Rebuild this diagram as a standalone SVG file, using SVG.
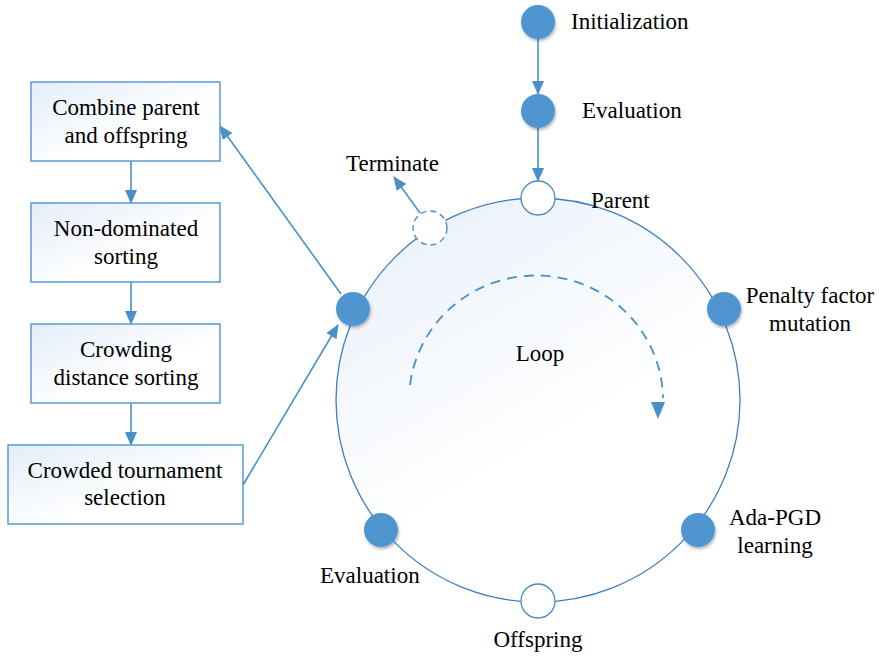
<svg xmlns="http://www.w3.org/2000/svg" width="879" height="658" viewBox="0 0 879 658">
<defs>
<linearGradient id="boxg" x1="0" y1="0" x2="1" y2="1">
<stop offset="0" stop-color="#e4edf8"/>
<stop offset="0.6" stop-color="#ffffff"/>
</linearGradient>
<linearGradient id="circg" x1="0.2" y1="0" x2="0.55" y2="0.6">
<stop offset="0" stop-color="#eaf1fa"/>
<stop offset="1" stop-color="#ffffff"/>
</linearGradient>
<filter id="sh" x="-50%" y="-50%" width="200%" height="200%">
<feGaussianBlur in="SourceAlpha" stdDeviation="1.5"/>
<feOffset dx="1" dy="1.5" result="b"/>
<feFlood flood-color="#000" flood-opacity="0.3"/>
<feComposite in2="b" operator="in"/>
<feMerge><feMergeNode/><feMergeNode in="SourceGraphic"/></feMerge>
</filter>
<marker id="ah" markerWidth="14" markerHeight="12" refX="13" refY="6" orient="auto" markerUnits="userSpaceOnUse">
<path d="M0,0 L14,6 L0,12 Z" fill="#4a90c8"/>
</marker>
<circle id="fnode" r="17" fill="#4f96d1" filter="url(#sh)"/>
</defs>

<g id="loop-circle">
<circle cx="538" cy="400" r="202" fill="url(#circg)" stroke="#3f7fbf" stroke-width="1.3"/>
</g>

<g id="connectors" stroke="#4a90c8" stroke-width="1.6" fill="none">
<line x1="538" y1="39" x2="538" y2="94" marker-end="url(#ah)"/>
<line x1="538" y1="128" x2="538" y2="181" marker-end="url(#ah)"/>
<line x1="131" y1="161" x2="131" y2="203" marker-end="url(#ah)"/>
<line x1="131" y1="282" x2="131" y2="324" marker-end="url(#ah)"/>
<line x1="131" y1="403" x2="131" y2="445" marker-end="url(#ah)"/>
<line x1="420" y1="213" x2="394" y2="177" marker-end="url(#ah)"/>
<line x1="341" y1="294" x2="220" y2="126" marker-end="url(#ah)"/>
<line x1="243" y1="485" x2="338" y2="325" marker-end="url(#ah)"/>
<path d="M410,385 A127,125 0 0 1 663,398" stroke-dasharray="10,7" stroke-width="1.8"/>
<path d="M651,402 L665,402 L658,419 Z" fill="#4a90c8" stroke="none"/>
</g>

<g id="box-combine">
<rect x="31" y="82" width="189" height="79" fill="url(#boxg)" stroke="#5a9bd3" stroke-width="1.5"/>
<text font-family="Liberation Serif, serif" font-size="23" text-anchor="middle" x="126" y="115">Combine parent</text>
<text font-family="Liberation Serif, serif" font-size="23" text-anchor="middle" x="126" y="143">and offspring</text>
</g>
<g id="box-nondominated">
<rect x="31" y="203" width="189" height="79" fill="url(#boxg)" stroke="#5a9bd3" stroke-width="1.5"/>
<text font-family="Liberation Serif, serif" font-size="23" text-anchor="middle" x="126" y="236">Non-dominated</text>
<text font-family="Liberation Serif, serif" font-size="23" text-anchor="middle" x="126" y="264">sorting</text>
</g>
<g id="box-crowding">
<rect x="31" y="324" width="189" height="79" fill="url(#boxg)" stroke="#5a9bd3" stroke-width="1.5"/>
<text font-family="Liberation Serif, serif" font-size="23" text-anchor="middle" x="126" y="357">Crowding</text>
<text font-family="Liberation Serif, serif" font-size="23" text-anchor="middle" x="126" y="385">distance sorting</text>
</g>
<g id="box-tournament">
<rect x="8" y="445" width="235" height="79" fill="url(#boxg)" stroke="#5a9bd3" stroke-width="1.5"/>
<text font-family="Liberation Serif, serif" font-size="23" text-anchor="middle" x="125" y="478">Crowded tournament</text>
<text font-family="Liberation Serif, serif" font-size="23" text-anchor="middle" x="125" y="505">selection</text>
</g>

<g id="node-init">
<use href="#fnode" x="538" y="22"/>
<text font-family="Liberation Serif, serif" font-size="23" x="571" y="29">Initialization</text>
</g>
<g id="node-eval-top">
<use href="#fnode" x="538" y="111"/>
<text font-family="Liberation Serif, serif" font-size="23" x="582" y="118">Evaluation</text>
</g>
<g id="node-parent">
<circle cx="538" cy="198" r="17" fill="#fff" stroke="#4a8ac4" stroke-width="1.3"/>
<text font-family="Liberation Serif, serif" font-size="23" x="591" y="208">Parent</text>
</g>
<g id="node-terminate">
<circle cx="430" cy="228" r="17" fill="#fff" stroke="#4a8ac4" stroke-width="1.3" stroke-dasharray="6,4"/>
<text font-family="Liberation Serif, serif" font-size="23" x="346" y="171">Terminate</text>
</g>
<g id="node-select">
<use href="#fnode" x="353" y="309"/>
</g>
<g id="node-penalty">
<use href="#fnode" x="724" y="309"/>
<text font-family="Liberation Serif, serif" font-size="23" text-anchor="middle" x="810" y="303">Penalty factor</text>
<text font-family="Liberation Serif, serif" font-size="23" text-anchor="middle" x="810" y="331">mutation</text>
</g>
<g id="node-adapgd">
<use href="#fnode" x="698" y="530"/>
<text font-family="Liberation Serif, serif" font-size="23" text-anchor="middle" x="775" y="525">Ada-PGD</text>
<text font-family="Liberation Serif, serif" font-size="23" text-anchor="middle" x="775" y="553">learning</text>
</g>
<g id="node-eval-bottom">
<use href="#fnode" x="381" y="530"/>
<text font-family="Liberation Serif, serif" font-size="23" x="320" y="583">Evaluation</text>
</g>
<g id="node-offspring">
<circle cx="538" cy="601" r="17" fill="#fff" stroke="#4a8ac4" stroke-width="1.3"/>
<text font-family="Liberation Serif, serif" font-size="23" text-anchor="middle" x="538" y="647">Offspring</text>
</g>
<g id="label-loop">
<text font-family="Liberation Serif, serif" font-size="23" text-anchor="middle" x="540" y="361">Loop</text>
</g>
</svg>
